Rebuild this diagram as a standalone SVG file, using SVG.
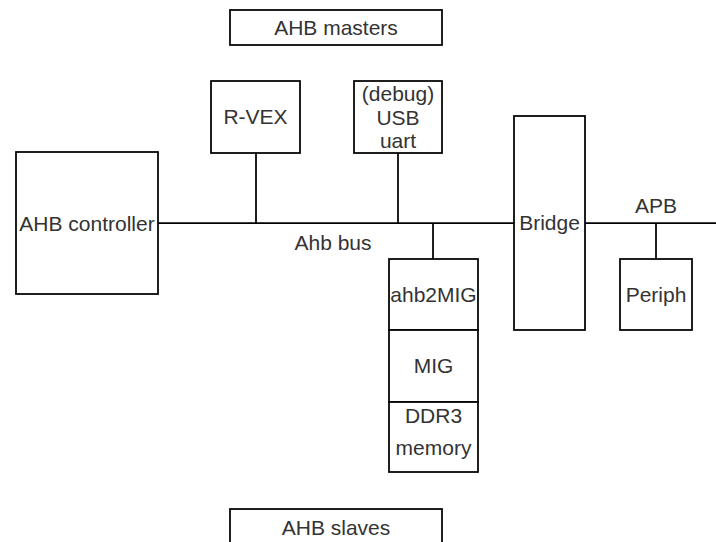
<svg xmlns="http://www.w3.org/2000/svg" width="716" height="542" viewBox="0 0 716 542">
<style>
.box{fill:#ffffff;stroke:#000000;stroke-width:1.75}
.ln{fill:none;stroke:#000000;stroke-width:1.75}
text{font-family:"Liberation Sans",Arial,sans-serif;font-size:21px;fill:#333333;text-anchor:middle}
</style>
<rect width="716" height="542" fill="#ffffff"/>
<g id="connectors">
<path class="ln" d="M158 223H514"/>
<path class="ln" d="M256 153V223"/>
<path class="ln" d="M398 153V223"/>
<path class="ln" d="M433 223V259"/>
<path class="ln" d="M585 223H716"/>
<path class="ln" d="M656 223V259"/>
</g>
<g id="ahb-masters"><rect class="box" x="230" y="10" width="212" height="35"/><text x="336" y="35">AHB masters</text></g>
<g id="rvex"><rect class="box" x="211" y="81" width="89" height="72"/><text x="255.5" y="124">R-VEX</text></g>
<g id="usb-uart"><rect class="box" x="354" y="81" width="88" height="72"/><text x="398" y="101">(debug)</text><text x="398" y="125">USB</text><text x="398" y="148">uart</text></g>
<g id="ahb-controller"><rect class="box" x="16" y="152" width="142" height="142"/><text x="87" y="231">AHB controller</text></g>
<g id="ahb-bus-label"><text x="333" y="250">Ahb bus</text></g>
<g id="ahb2mig"><rect class="box" x="389" y="259" width="89" height="71"/><text x="433.5" y="302">ahb2MIG</text></g>
<g id="mig"><rect class="box" x="389" y="330" width="89" height="72"/><text x="433.5" y="373">MIG</text></g>
<g id="ddr3"><rect class="box" x="389" y="402" width="89" height="70"/><text x="433.5" y="423">DDR3</text><text x="433.5" y="455">memory</text></g>
<g id="bridge"><rect class="box" x="514" y="116" width="71" height="214"/><text x="549.5" y="230">Bridge</text></g>
<g id="apb-label"><text x="656" y="213">APB</text></g>
<g id="periph"><rect class="box" x="620" y="259" width="72" height="71"/><text x="656" y="302">Periph</text></g>
<g id="ahb-slaves"><rect class="box" x="230" y="509" width="212" height="35"/><text x="336" y="535">AHB slaves</text></g>
</svg>
